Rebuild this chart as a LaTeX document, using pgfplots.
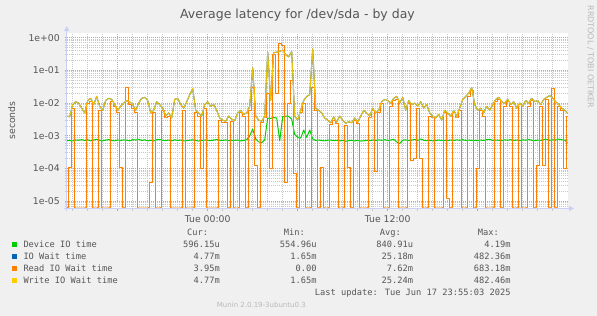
\documentclass[border=0pt]{standalone}
\usepackage{fontspec}
\setmainfont{DejaVu Sans}
\newfontfamily\monofont{DejaVu Sans Mono}
\usepackage{pgfplots}
\usepackage{pgfplotstable}
\pgfplotsset{compat=1.18}
\usetikzlibrary{arrows.meta}
\definecolor{bgcol}{RGB}{240,240,240}
\definecolor{txtcol}{RGB}{85,85,85}
\definecolor{lightcol}{RGB}{185,185,185}
\definecolor{gridcol}{RGB}{200,200,200}
\definecolor{mgridcol}{RGB}{232,150,150}
\definecolor{axiscol}{RGB}{200,208,245}
\definecolor{cgreen}{RGB}{0,204,0}
\definecolor{cblue}{RGB}{0,102,179}
\definecolor{corange}{RGB}{255,128,0}
\definecolor{cyellow}{RGB}{255,204,0}

\pgfplotstableread{
h g w r
-9.4 7.0e-4 4.0e-3 6.2e-6
-9.2 7.2e-4 3.8e-3 1.1e-4
-9.0 7.0e-4 9.0e-3 7.0e-3
-8.8 7.4e-4 1.1e-2 6.2e-6
-8.6 7.3e-4 1.0e-2 6.2e-6
-8.4 7.6e-4 7.0e-3 6.2e-6
-8.2 7.2e-4 5.0e-3 6.2e-6
-8.0 7.5e-4 1.2e-2 1.0e-2
-7.8 7.0e-4 1.4e-2 1.1e-2
-7.6 7.4e-4 9.0e-3 6.2e-6
-7.4 7.8e-4 1.6e-2 6.2e-6
-7.2 7.3e-4 8.0e-3 6.0e-3
-7.0 7.0e-4 6.0e-3 6.2e-6
-6.8 7.4e-4 1.2e-2 6.2e-6
-6.6 7.6e-4 1.4e-2 6.2e-6
-6.4 7.2e-4 1.3e-2 1.1e-2
-6.2 7.0e-4 9.0e-3 8.0e-3
-6.0 7.4e-4 6.0e-3 5.0e-3
-5.8 7.2e-4 8.0e-3 1.1e-4
-5.6 7.5e-4 1.0e-2 6.2e-6
-5.4 7.3e-4 1.2e-2 2.9e-2
-5.2 7.0e-4 1.1e-2 9.0e-3
-5.0 7.6e-4 9.0e-3 7.0e-3
-4.8 7.4e-4 6.0e-3 5.0e-3
-4.6 7.8e-4 1.0e-2 6.2e-6
-4.4 7.2e-4 1.4e-2 6.2e-6
-4.2 7.5e-4 1.5e-2 6.2e-6
-4.0 7.0e-4 1.2e-2 6.2e-6
-3.8 7.3e-4 5.0e-3 3.7e-5
-3.6 6.9e-4 6.0e-3 5.0e-3
-3.4 7.6e-4 1.1e-2 6.2e-6
-3.2 7.7e-4 9.0e-3 6.2e-6
-3.0 7.3e-4 7.0e-3 6.0e-3
-2.8 7.1e-4 4.0e-3 3.5e-3
-2.6 7.4e-4 5.0e-3 4.0e-3
-2.4 7.0e-4 3.5e-3 6.2e-6
-2.2 7.5e-4 1.3e-2 6.2e-6
-2.0 7.2e-4 1.4e-2 6.2e-6
-1.8 7.4e-4 9.0e-3 6.2e-6
-1.6 7.0e-4 7.0e-3 6.0e-3
-1.4 7.1e-4 1.1e-2 6.2e-6
-1.2 7.3e-4 1.8e-2 6.2e-6
-1.0 7.5e-4 2.8e-2 6.2e-6
-0.8 7.2e-4 6.0e-3 5.0e-3
-0.6 6.9e-4 5.0e-3 4.0e-3
-0.4 7.2e-4 4.0e-3 1.0e-4
-0.2 7.4e-4 9.0e-3 7.0e-3
0.0 7.2e-4 1.1e-2 6.2e-6
0.2 7.1e-4 8.0e-3 6.2e-6
0.4 7.4e-4 9.0e-3 6.2e-6
0.6 7.6e-4 6.0e-3 6.2e-6
0.8 7.3e-4 3.5e-3 3.0e-3
1.0 7.2e-4 3.0e-3 2.5e-3
1.2 7.5e-4 2.8e-3 2.5e-3
1.4 7.1e-4 4.0e-3 6.2e-6
1.6 7.3e-4 3.2e-3 2.8e-3
1.8 7.2e-4 2.9e-3 6.2e-6
2.0 7.4e-4 5.0e-3 6.2e-6
2.2 7.0e-4 6.0e-3 5.0e-3
2.4 7.2e-4 4.5e-3 4.0e-3
2.6 7.6e-4 5.0e-3 6.2e-6
2.8 1.0e-3 8.0e-3 6.0e-3
3.0 1.6e-3 1.2e-1 3.0e-2
3.2 8.0e-4 4.0e-3 1.2e-4
3.4 6.5e-4 3.0e-3 6.2e-6
3.6 6.2e-4 2.8e-3 2.5e-3
3.8 7.5e-4 4.0e-3 3.5e-3
4.0 3.5e-3 3.7e-1 2.0e-2
4.2 3.4e-3 1.2e-2 1.0e-4
4.4 3.6e-3 3.5e-1 3.0e-1
4.6 3.5e-3 3.6e-1 2.0e-2
4.8 7.0e-4 3.8e-1 6.8e-1
5.0 3.8e-3 4.2e-1 5.7e-1
5.2 4.0e-3 3.0e-1 3.7e-5
5.4 3.9e-3 2.6e-1 1.0e-2
5.6 3.2e-3 3.8e-1 5.0e-2
5.8 1.1e-3 4.0e-3 7.0e-5
6.0 9.0e-4 3.0e-3 6.2e-6
6.2 8.5e-4 6.0e-3 5.0e-3
6.4 1.5e-3 1.2e-2 1.0e-2
6.6 9.0e-4 1.6e-2 6.2e-6
6.8 1.5e-3 1.8e-2 6.2e-6
7.0 8.0e-4 4.5e-1 3.0e-2
7.2 7.2e-4 7.0e-3 6.0e-3
7.4 7.4e-4 6.0e-3 6.2e-6
7.6 7.2e-4 5.0e-3 1.1e-4
7.8 7.0e-4 3.5e-3 6.2e-6
8.0 7.3e-4 3.0e-3 6.2e-6
8.2 7.4e-4 2.5e-3 2.2e-3
8.4 7.1e-4 3.8e-3 3.0e-3
8.6 7.3e-4 2.6e-3 2.3e-3
8.8 7.0e-4 4.0e-3 6.2e-6
9.0 7.2e-4 3.0e-3 6.2e-6
9.2 6.8e-4 2.4e-3 2.1e-3
9.4 7.1e-4 2.7e-3 1.1e-4
9.6 7.3e-4 2.5e-3 6.2e-6
9.8 7.0e-4 3.5e-3 3.0e-3
10.0 7.2e-4 2.6e-3 2.3e-3
10.2 6.9e-4 4.0e-3 6.2e-6
10.4 7.0e-4 6.0e-3 6.2e-6
10.6 7.3e-4 5.0e-3 6.2e-6
10.8 7.1e-4 4.0e-3 3.5e-3
11.0 7.4e-4 7.0e-3 6.0e-3
11.2 7.2e-4 5.0e-3 8.0e-5
11.4 7.5e-4 6.0e-3 5.0e-3
11.6 7.3e-4 1.1e-2 1.0e-2
11.8 7.6e-4 1.3e-2 6.2e-6
12.0 7.2e-4 1.2e-2 6.2e-6
12.2 7.4e-4 1.0e-2 8.0e-3
12.4 7.8e-4 1.4e-2 1.2e-2
12.6 6.5e-4 1.6e-2 1.3e-2
12.8 5.8e-4 1.0e-2 6.2e-6
13.0 7.3e-4 1.5e-2 6.2e-6
13.2 7.5e-4 6.0e-3 6.2e-6
13.4 7.2e-4 1.2e-2 1.0e-2
13.6 7.4e-4 9.0e-3 1.8e-4
13.8 7.7e-4 1.0e-2 2.0e-4
14.0 7.2e-4 8.0e-3 7.0e-3
14.2 8.0e-4 1.1e-2 2.0e-4
14.4 7.3e-4 7.0e-3 6.2e-6
14.6 7.1e-4 9.0e-3 6.2e-6
14.8 7.3e-4 5.0e-3 4.0e-3
15.0 7.0e-4 4.0e-3 3.5e-3
15.2 7.2e-4 3.5e-3 6.2e-6
15.4 7.4e-4 4.5e-3 6.2e-6
15.6 7.2e-4 3.0e-3 6.2e-6
15.8 7.3e-4 6.0e-3 5.0e-3
16.0 7.1e-4 5.0e-3 1.2e-5
16.2 7.4e-4 4.0e-3 6.2e-6
16.4 7.2e-4 6.0e-3 5.0e-3
16.6 7.5e-4 4.0e-3 3.5e-3
16.8 7.3e-4 7.0e-3 6.0e-3
17.0 7.6e-4 1.3e-2 6.2e-6
17.2 7.2e-4 1.6e-2 6.2e-6
17.4 7.4e-4 2.0e-2 1.6e-2
17.6 7.2e-4 3.0e-2 2.5e-2
17.8 7.3e-4 9.0e-3 6.2e-6
18.0 7.1e-4 6.0e-3 1.0e-4
18.2 7.4e-4 7.0e-3 6.0e-3
18.4 7.2e-4 5.0e-3 4.0e-3
18.6 7.6e-4 8.0e-3 6.2e-6
18.8 7.8e-4 6.0e-3 6.2e-6
19.0 7.2e-4 9.0e-3 6.2e-6
19.2 7.4e-4 1.3e-2 1.1e-2
19.4 7.3e-4 1.5e-2 1.3e-2
19.6 7.1e-4 1.1e-2 6.2e-6
19.8 7.5e-4 1.0e-2 8.0e-3
20.0 7.3e-4 1.3e-2 1.1e-2
20.2 7.6e-4 9.0e-3 8.0e-3
20.4 7.2e-4 1.1e-2 6.2e-6
20.6 7.4e-4 7.0e-3 6.2e-6
20.8 7.1e-4 1.0e-2 9.0e-3
21.0 7.5e-4 8.0e-3 6.2e-6
21.2 7.3e-4 1.2e-2 6.2e-6
21.4 7.7e-4 1.0e-2 8.0e-3
21.6 7.3e-4 1.4e-2 1.2e-2
21.8 7.1e-4 1.1e-2 6.2e-6
22.0 7.4e-4 1.2e-2 1.2e-4
22.2 7.2e-4 9.0e-3 8.0e-3
22.4 7.6e-4 1.3e-2 1.2e-4
22.6 7.8e-4 1.5e-2 1.3e-2
22.8 7.3e-4 1.7e-2 6.2e-6
23.0 7.5e-4 1.4e-2 2.7e-2
23.2 7.4e-4 1.1e-2 6.2e-6
23.4 7.9e-4 9.0e-3 8.0e-3
23.6 7.6e-4 7.0e-3 6.0e-3
23.8 7.4e-4 6.0e-3 1.0e-4
24.0 6.0e-4 4.8e-3 4.0e-3
}\datatable

\begin{document}
\begin{tikzpicture}
\fill[bgcol] (0,0) rectangle (597bp,316bp);
\begin{axis}[
  at={(66.7bp,107.5bp)}, anchor=south west,
  scale only axis, width=501bp, height=175.5bp,
  xmin=-9.4, xmax=24.0,
  ymode=log, ymin=5.98e-6, ymax=1.39,
  axis background/.style={fill=white},
  axis line style={draw=none},
  xtick={-6,0,6,12,18},
  xticklabels={,Tue 00:00,,Tue 12:00,},
  minor xtick={-9,-8,...,23},
  ytick={1e-5,1e-4,1e-3,1e-2,1e-1,1},
  yticklabels={1e-05,1e-04,1e-03,1e-02,1e-01,1e+00},
  minor ytick={7e-6,8e-6,9e-6,2e-5,3e-5,4e-5,5e-5,6e-5,7e-5,8e-5,9e-5,2e-4,3e-4,4e-4,5e-4,6e-4,7e-4,8e-4,9e-4,2e-3,3e-3,4e-3,5e-3,6e-3,7e-3,8e-3,9e-3,2e-2,3e-2,4e-2,5e-2,6e-2,7e-2,8e-2,9e-2,2e-1,3e-1,4e-1,5e-1,6e-1,7e-1,8e-1,9e-1},
  grid=both,
  minor grid style={draw=gridcol, line width=0.8bp, dash pattern=on 1bp off 1bp},
  major grid style={draw=mgridcol, line width=0.8bp, dash pattern=on 1bp off 1bp},
  tick pos=left, tick align=outside,
  major tick length=2bp, minor tick length=2bp,
  major tick style={draw=mgridcol, line width=0.8bp},
  minor tick style={draw=gridcol, line width=0.8bp},
  xticklabel style={font=\fontsize{9.3bp}{11bp}\selectfont, text=txtcol, inner sep=0pt, anchor=north, yshift=-4.5bp},
  yticklabel style={font=\fontsize{9.3bp}{11bp}\selectfont, text=txtcol, inner sep=0pt, anchor=east, xshift=-4.7bp},
  every axis plot/.append style={line width=1bp, line join=round},
]
\addplot[cgreen, sharp plot] table[x=h, y=g] {\datatable};
\addplot[cblue, sharp plot] table[x=h, y=w] {\datatable};
\addplot[corange, const plot mark mid] table[x=h, y=r] {\datatable};
\addplot[cyellow, sharp plot, opacity=0.9] table[x=h, y=w] {\datatable};
\end{axis}
% axis lines with arrows
\draw[axiscol, line width=1bp, -{Triangle[length=5bp,width=5bp]}] (63.7bp,107.5bp) -- (574bp,107.5bp);
\draw[axiscol, line width=1bp, -{Triangle[length=5bp,width=5bp]}] (66.7bp,104.5bp) -- (66.7bp,290bp);
% title and labels
\node[anchor=base, inner sep=0pt, text=txtcol, font=\fontsize{12.5bp}{15bp}\selectfont] at (297.5bp,297.7bp) {Average latency for /dev/sda - by day};
\node[anchor=base, inner sep=0pt, rotate=90, text=txtcol, font=\fontsize{9.3bp}{11bp}\selectfont] at (15.2bp,195.5bp) {seconds};
\node[anchor=center, inner sep=0pt, rotate=-90, text=lightcol, font=\fontsize{8bp}{10bp}\selectfont] at (590.5bp,259bp) {RRDTOOL / TOBI OETIKER};
% legend
\begin{scope}[every node/.style={inner sep=0pt, text=txtcol, font=\monofont\fontsize{8.7bp}{10bp}\selectfont}]
\node[anchor=base east] at (208.3bp,80.5bp) {Cur:};
\node[anchor=base east] at (305bp,80.5bp) {Min:};
\node[anchor=base east] at (401bp,80.5bp) {Avg:};
\node[anchor=base east] at (499bp,80.5bp) {Max:};
\fill[cgreen] (12.2bp,68.7bp) rectangle (17.2bp,73.7bp);
\fill[cblue] (12.2bp,56.7bp) rectangle (17.2bp,61.7bp);
\fill[corange] (12.2bp,44.7bp) rectangle (17.2bp,49.7bp);
\fill[cyellow] (12.2bp,33.1bp) rectangle (17.2bp,38.1bp);
\node[anchor=base west] at (23.3bp,68.1bp) {Device IO time};
\node[anchor=base west] at (23.3bp,56.1bp) {IO Wait time};
\node[anchor=base west] at (23.3bp,44.1bp) {Read IO Wait time};
\node[anchor=base west] at (23.3bp,32.5bp) {Write IO Wait time};
\node[anchor=base east] at (220bp,68.1bp) {596.15u};
\node[anchor=base east] at (316.7bp,68.1bp) {554.96u};
\node[anchor=base east] at (413.3bp,68.1bp) {840.91u};
\node[anchor=base east] at (510.7bp,68.1bp) {4.19m};
\node[anchor=base east] at (220bp,56.1bp) {4.77m};
\node[anchor=base east] at (316.7bp,56.1bp) {1.65m};
\node[anchor=base east] at (413.3bp,56.1bp) {25.18m};
\node[anchor=base east] at (510.7bp,56.1bp) {482.36m};
\node[anchor=base east] at (220bp,44.1bp) {3.95m};
\node[anchor=base east] at (316.7bp,44.1bp) {0.00};
\node[anchor=base east] at (413.3bp,44.1bp) {7.62m};
\node[anchor=base east] at (510.7bp,44.1bp) {683.18m};
\node[anchor=base east] at (220bp,32.5bp) {4.77m};
\node[anchor=base east] at (316.7bp,32.5bp) {1.65m};
\node[anchor=base east] at (413.3bp,32.5bp) {25.24m};
\node[anchor=base east] at (510.7bp,32.5bp) {482.46m};
\node[anchor=base east] at (510.7bp,20.1bp) {Last update: Tue Jun 17 23:55:03 2025};
\end{scope}
\node[anchor=base, inner sep=0pt, text=lightcol, font=\fontsize{7bp}{9bp}\selectfont] at (261.3bp,8.4bp) {Munin 2.0.19-3ubuntu0.3};
\pgfresetboundingbox
\useasboundingbox (0,0) rectangle (597bp,316bp);
\end{tikzpicture}
\end{document}
